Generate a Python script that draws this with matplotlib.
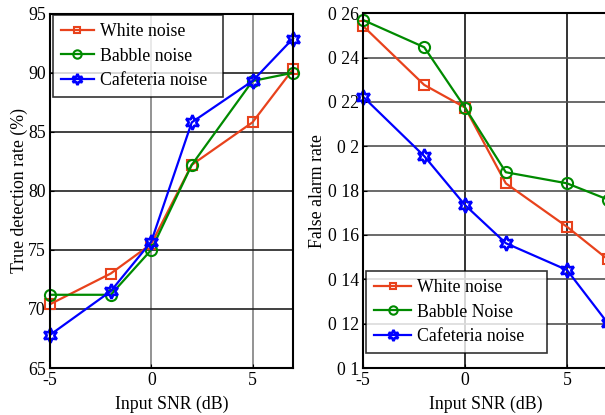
import matplotlib
matplotlib.use("Agg")
import matplotlib.pyplot as plt
from matplotlib.ticker import FixedLocator, FixedFormatter

plt.rcParams['font.family'] = ['Liberation Serif', 'DejaVu Serif']
plt.rcParams['font.size'] = 12.8

snr = [-5, -2, 0, 2, 5, 7]

# Left panel: true detection rate (%)
tdr_white = [70.4, 73.0, 75.5, 82.2, 85.8, 90.3]
tdr_babble = [71.2, 71.2, 75.0, 82.2, 89.3, 90.0]
tdr_cafe = [67.8, 71.5, 75.7, 85.8, 89.3, 92.9]
tdr_labels = ['White noise', 'Babble noise', 'Cafeteria noise']

# Right panel: false alarm rate
far_white = [0.2543, 0.2277, 0.2175, 0.1833, 0.1637, 0.149]
far_babble = [0.257, 0.2447, 0.2175, 0.1883, 0.1833, 0.176]
far_cafe = [0.2224, 0.1956, 0.1735, 0.1563, 0.1442, 0.1202]
far_labels = ['White noise', 'Babble Noise', 'Cafeteria noise']

xticks = [-5, 0, 5]
left_yticks = [65, 70, 75, 80, 85, 90, 95]
right_yticks = [0.10, 0.12, 0.14, 0.16, 0.18, 0.20, 0.22, 0.24, 0.26]
right_yticklabels = ['0 1', '0 12', '0 14', '0 16', '0 18', '0 2', '0 22', '0 24', '0 26']

RED = '#E8421C'
GREEN = '#008A00'
BLUE = '#0000FF'
HEX = (6, 1, 0)

fig = plt.figure(figsize=(6.05, 4.15), dpi=100)
ax1 = fig.add_axes([50/605, 47/415, 243/605, 354.3/415])
ax2 = fig.add_axes([363/605, 47/415, 244.8/605, 354.7/415])

def style(ax, xgrid_col, ygrid_col):
    ax.set_xlim(-5, 7)
    ax.xaxis.set_major_locator(FixedLocator(xticks))
    ax.set_xticklabels(['-5', '0', '5'])
    ax.tick_params(direction='in', length=3, width=0.8, top=False, right=False, pad=3)
    for s in ax.spines.values():
        s.set_linewidth(1.5)
        s.set_color('black')
    ax.xaxis.grid(True, color=xgrid_col, linewidth=1.2)
    ax.yaxis.grid(True, color=ygrid_col, linewidth=1.2)
    ax.set_axisbelow(True)
    ax.set_xlabel('Input SNR (dB)', labelpad=5)

def plot_series(ax, ys, labels):
    ax.plot(snr, ys[0], color=RED, lw=1.6, marker='s', ms=6.5, mfc='none', mec=RED, mew=1.5, label=labels[0], clip_on=False)
    ax.plot(snr, ys[1], color=GREEN, lw=1.6, marker='o', ms=8, mfc='none', mec=GREEN, mew=1.5, label=labels[1], clip_on=False)
    ax.plot(snr, ys[2], color=BLUE, lw=1.6, marker=HEX, ms=10.5, mfc='none', mec=BLUE, mew=1.9, label=labels[2], clip_on=False)

plot_series(ax1, [tdr_white, tdr_babble, tdr_cafe], tdr_labels)
style(ax1, '#808080', '#202020')
ax1.set_ylim(65, 95)
ax1.yaxis.set_major_locator(FixedLocator(left_yticks))
ax1.set_ylabel('True detection rate (%)', labelpad=0)
leg1 = ax1.legend(loc='upper left', bbox_to_anchor=(0.0123, 0.0, 0.70, 0.996), mode='expand',
                  frameon=True, fancybox=False, markerscale=0.75,
                  edgecolor='black', handlelength=1.85, borderpad=0.45, labelspacing=0.42,
                  handletextpad=0.35, borderaxespad=0.0)
leg1.get_frame().set_linewidth(1.2)

plot_series(ax2, [far_white, far_babble, far_cafe], far_labels)
style(ax2, '#101010', '#505050')
ax2.set_ylim(0.10, 0.26)
ax2.yaxis.set_major_locator(FixedLocator(right_yticks))
ax2.yaxis.set_major_formatter(FixedFormatter(right_yticklabels))
ax2.set_ylabel('False alarm rate', labelpad=1.5)
leg2 = ax2.legend(loc='lower left', bbox_to_anchor=(0.0123, 0.042, 0.74, 0.9), mode='expand',
                  frameon=True, fancybox=False, markerscale=0.75,
                  edgecolor='black', handlelength=2.1, borderpad=0.45, labelspacing=0.42,
                  handletextpad=0.3, borderaxespad=0.0)
leg2.get_frame().set_linewidth(1.2)

fig.savefig('out.png', dpi=100)
